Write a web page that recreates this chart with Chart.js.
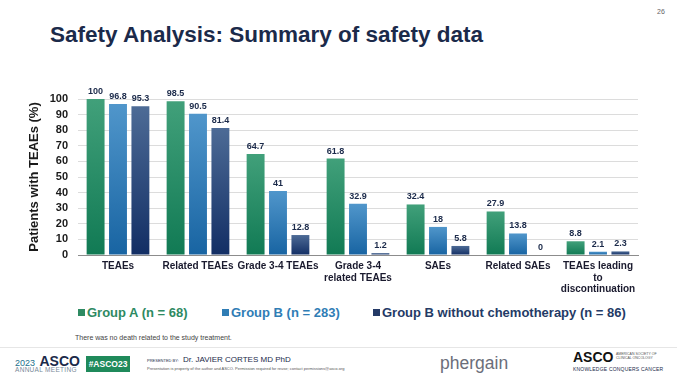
<!DOCTYPE html>
<html>
<head>
<meta charset="utf-8">
<script src="https://cdn.jsdelivr.net/npm/chart.js@4/dist/chart.umd.min.js"></script>
<style>
  html, body { margin: 0; padding: 0; background: #fff; }
  body { width: 677px; height: 381px; position: relative; overflow: hidden; font-family: "Liberation Sans", Arial, sans-serif; }
  .abs { position: absolute; white-space: nowrap; }
  #title { left: 50px; top: 22px; font-size: 22.5px; font-weight: bold; color: #1b2a4a; }
  #pageNo { left: 657px; top: 8px; font-size: 7px; color: #666; }
  #chartBox { position: absolute; left: 0; top: 60px; width: 677px; height: 240px; }
  .leg { top: 305px; font-size: 13px; font-weight: bold; }
  .leg i { display: inline-block; width: 7px; height: 7px; margin-right: 2px; vertical-align: 1px; }
  #note { left: 75px; top: 334px; font-size: 7px; color: #444; }
  #rule { left: 0; top: 347px; width: 677px; height: 1px; background: #e6e6e6; }
</style>
</head>
<body>
<div id="title" class="abs">Safety Analysis: Summary of safety data</div>
<div id="pageNo" class="abs">26</div>
<div id="chartBox"><canvas id="safetyChart"></canvas></div>

<div class="abs leg" style="left:78px;color:#2e8a62"><i style="background:#2e8a62"></i>Group A (n = 68)</div>
<div class="abs leg" style="left:222px;color:#2f7db5"><i style="background:#2f7db5"></i>Group B (n = 283)</div>
<div class="abs leg" style="left:373px;color:#243a66"><i style="background:#243a66"></i>Group B without chemotherapy (n = 86)</div>
<div id="note" class="abs">There was no death related to the study treatment.</div>
<div id="rule" class="abs"></div>

<!-- footer -->
<div class="abs" style="left:15px;top:352px;color:#1b2a4a"><span style="font-size:9px;color:#1d6f8c">2023</span> <span style="font-size:14px;font-weight:bold">ASCO</span></div>
<div class="abs" style="left:15px;top:366px;font-size:6.5px;color:#7a8a99;letter-spacing:0.3px">ANNUAL MEETING</div>
<div class="abs" style="left:86px;top:356px;width:44px;height:16px;background:#1f8a5b;color:#fff;font-size:8.5px;font-weight:bold;line-height:16px;text-align:center">#ASCO23</div>
<div class="abs" style="left:147px;top:358px;font-size:4px;color:#1b2a4a">PRESENTED BY:</div>
<div class="abs" style="left:183px;top:355px;font-size:8px;color:#1b2a4a">Dr. JAVIER CORTES MD PhD</div>
<div class="abs" style="left:147px;top:366px;font-size:4px;color:#555">Presentation is property of the author and ASCO. Permission required for reuse; contact permissions@asco.org</div>
<div class="abs" style="left:440px;top:353px;font-size:17.5px;color:#6b6e7a">phergain</div>
<div class="abs" style="left:573px;top:349px;font-size:14px;font-weight:bold;color:#111">ASCO</div>
<div class="abs" style="left:616px;top:352px;font-size:3.5px;line-height:4px;color:#555">AMERICAN SOCIETY OF<br>CLINICAL ONCOLOGY</div>
<div class="abs" style="left:573px;top:366px;font-size:5px;color:#1b2a4a;letter-spacing:0.2px">KNOWLEDGE CONQUERS CANCER</div>

<script>
// categories and values
const categories = [
  'TEAEs',
  'Related TEAEs',
  'Grade 3-4 TEAEs',
  ['Grade 3-4', 'related TEAEs'],
  'SAEs',
  'Related SAEs',
  ['TEAEs leading', 'to', 'discontinuation']
];
const groupA = [100, 98.5, 64.7, 61.8, 32.4, 27.9, 8.8];
const groupB = [96.8, 90.5, 41, 32.9, 18, 13.8, 2.1];
const groupBNoChemo = [95.3, 81.4, 12.8, 1.2, 5.8, 0, 2.3];
const yTicks = [0, 10, 20, 30, 40, 50, 60, 70, 80, 90, 100];

// vertical gradient for each bar, lighter on top
function barGradient(top, bottom) {
  return function(ctx) {
    const chart = ctx.chart;
    const yScale = chart.scales && chart.scales.y;
    if (!chart.chartArea || !yScale || ctx.raw === undefined) return bottom;
    const y0 = yScale.getPixelForValue(0);
    const y1 = yScale.getPixelForValue(ctx.raw);
    if (Math.abs(y0 - y1) < 1) return bottom;
    const g = chart.ctx.createLinearGradient(0, y1, 0, y0);
    g.addColorStop(0, top);
    g.addColorStop(1, bottom);
    return g;
  };
}

// value labels above bars
const valueLabels = {
  id: 'valueLabels',
  afterDatasetsDraw(chart) {
    const c = chart.ctx;
    c.save();
    c.font = 'bold 9px "Liberation Sans", Arial, sans-serif';
    c.fillStyle = '#1b2a4a';
    c.textAlign = 'center';
    c.textBaseline = 'alphabetic';
    chart.data.datasets.forEach((ds, i) => {
      chart.getDatasetMeta(i).data.forEach((bar, j) => {
        c.fillText(String(ds.data[j]), bar.x, bar.y - 5);
      });
    });
    c.restore();
  }
};

new Chart(document.getElementById('safetyChart'), {
  type: 'bar',
  data: {
    labels: categories,
    datasets: [
      { label: 'Group A (n = 68)', data: groupA, backgroundColor: barGradient('#41a07a', '#117a54') },
      { label: 'Group B (n = 283)', data: groupB, backgroundColor: barGradient('#5096cb', '#1864a2') },
      { label: 'Group B without chemotherapy (n = 86)', data: groupBNoChemo, backgroundColor: barGradient('#4d6b96', '#122e64') }
    ]
  },
  options: {
    responsive: true,
    maintainAspectRatio: false,
    animation: false,
    datasets: { bar: { categoryPercentage: 0.84, barPercentage: 0.8 } },
    layout: { padding: { top: 39, right: 39, bottom: 0, left: 0 } },
    plugins: { legend: { display: false }, tooltip: { enabled: false } },
    scales: {
      x: {
        grid: { display: false, drawTicks: false },
        border: { color: '#8c8c8c' },
        ticks: {
          color: '#1a1a2e',
          font: { family: '"Liberation Sans", Arial, sans-serif', size: 10, weight: 'bold', lineHeight: 1.12 },
          padding: 6,
          maxRotation: 0,
          autoSkip: false
        },
        afterFit(scale) { scale.height = 45; }
      },
      y: {
        min: 0,
        max: 100,
        afterBuildTicks(scale) { scale.ticks = yTicks.map(v => ({ value: v })); },
        grid: {
          drawTicks: false,
          color: ctx => ctx.tick && ctx.tick.value === 0 ? '#8c8c8c' : '#dcdcdc'
        },
        border: { display: false },
        ticks: {
          color: '#1a1a1a',
          font: { family: '"Liberation Sans", Arial, sans-serif', size: 11, weight: 'bold' },
          padding: 10,
          autoSkip: false
        },
        title: {
          display: true,
          text: 'Patients with TEAEs (%)',
          color: '#1a1a1a',
          font: { family: '"Liberation Sans", Arial, sans-serif', size: 13, weight: 'bold' },
          padding: { top: 27, bottom: 0 }
        },
        afterFit(scale) { scale.width = 78; }
      }
    }
  },
  plugins: [valueLabels]
});
</script>
</body>
</html>
